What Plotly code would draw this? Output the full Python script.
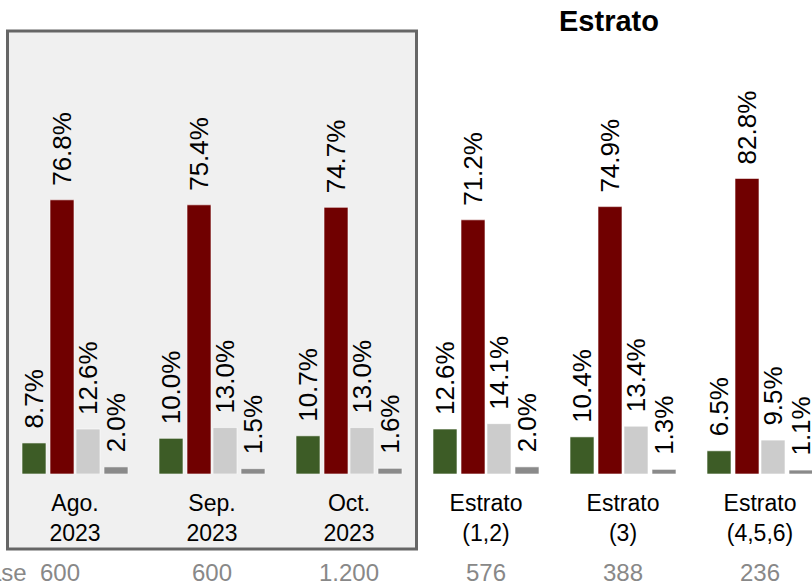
import plotly.graph_objects as go

# ---- data ----
categories = ["Ago.<br>2023", "Sep.<br>2023", "Oct.<br>2023",
              "Estrato<br>(1,2)", "Estrato<br>(3)", "Estrato<br>(4,5,6)"]
bases = ["600", "600", "1.200", "576", "388", "236"]
serie_verde = [8.7, 10.0, 10.7, 12.6, 10.4, 6.5]
serie_roja = [76.8, 75.4, 74.7, 71.2, 74.9, 82.8]
serie_gris_claro = [12.6, 13.0, 13.0, 14.1, 13.4, 9.5]
serie_gris_oscuro = [2.0, 1.5, 1.6, 2.0, 1.3, 1.1]
series_names = ["Serie 1", "Serie 2", "Serie 3", "Serie 4"]
title_text = "Estrato"
base_label = "Base"

# ---- style ----
W, H = 812, 586
unit = 137.0           # px per group
x_first = 75.0         # px of first group center
baseline_px = 474.0
px_per_pct = 3.57
colors = ["#3d5c26", "#700000", "#cccccc", "#8a8a8a"]
bar_w = 24 / unit
offsets = [-53 / unit, -25 / unit, 1 / unit, 29 / unit]

x0 = -x_first / unit
x1 = x0 + W / unit
y_dom0 = (H - baseline_px) / H
y_top = baseline_px / px_per_pct

xs = list(range(len(categories)))
series = [serie_verde, serie_roja, serie_gris_claro, serie_gris_oscuro]
FONT = "Liberation Sans, Arial"

fig = go.Figure()
for name, vals, col, off in zip(series_names, series, colors, offsets):
    fig.add_trace(go.Bar(
        x=xs, y=vals, name=name, width=bar_w, offset=off,
        marker=dict(color=col, line=dict(color="rgba(255,255,255,0.6)", width=1)),
        showlegend=False, hoverinfo="skip",
    ))

annotations = []
for vals, off in zip(series, offsets):
    for i, v in enumerate(vals):
        annotations.append(dict(
            x=i + off + bar_w / 2, y=v, xref="x", yref="y",
            text=f"{v:.1f}%", textangle=-90, showarrow=False,
            xanchor="center", yanchor="bottom", yshift=12,
            font=dict(family=FONT, size=26, color="#000"),
        ))

for i, b in enumerate(bases):
    annotations.append(dict(
        x=i, y=(H - 572) / H, xref="x", yref="paper", text=b,
        showarrow=False, xanchor="center", yanchor="middle",
        xshift=-15 if i == 0 else 0,
        font=dict(family=FONT, size=24, color="#888"),
    ))
annotations.append(dict(
    x=29 / W, y=(H - 572) / H, xref="paper", yref="paper", text=base_label,
    showarrow=False, xanchor="right", yanchor="middle",
    font=dict(family=FONT, size=24, color="#888"),
))
annotations.append(dict(
    x=609 / W, y=(H - 21) / H, xref="paper", yref="paper", text=f"<b>{title_text}</b>",
    showarrow=False, xanchor="center", yanchor="middle",
    font=dict(family=FONT, size=29, color="#000"),
))

fig.update_layout(
    width=W, height=H,
    margin=dict(l=0, r=0, t=0, b=0),
    paper_bgcolor="white", plot_bgcolor="rgba(0,0,0,0)",
    barmode="overlay",
    xaxis=dict(range=[x0, x1], tickvals=xs, ticktext=categories,
               showgrid=False, zeroline=False, showline=False, ticks="",
               ticklabelstandoff=13,
               tickfont=dict(family=FONT, size=23, color="#000")),
    yaxis=dict(range=[0, y_top], domain=[y_dom0, 1], visible=False),
    shapes=[dict(type="rect", xref="paper", yref="paper",
                 x0=7.5 / W, x1=416.5 / W, y0=(H - 549) / H, y1=(H - 31) / H,
                 line=dict(color="#666", width=3), fillcolor="#f0f0f0", layer="below")],
    annotations=annotations,
)

fig.write_html("out.html",
               config={"displayModeBar": False},
               post_script="document.body.style.margin='0';document.body.style.overflow='hidden';")
